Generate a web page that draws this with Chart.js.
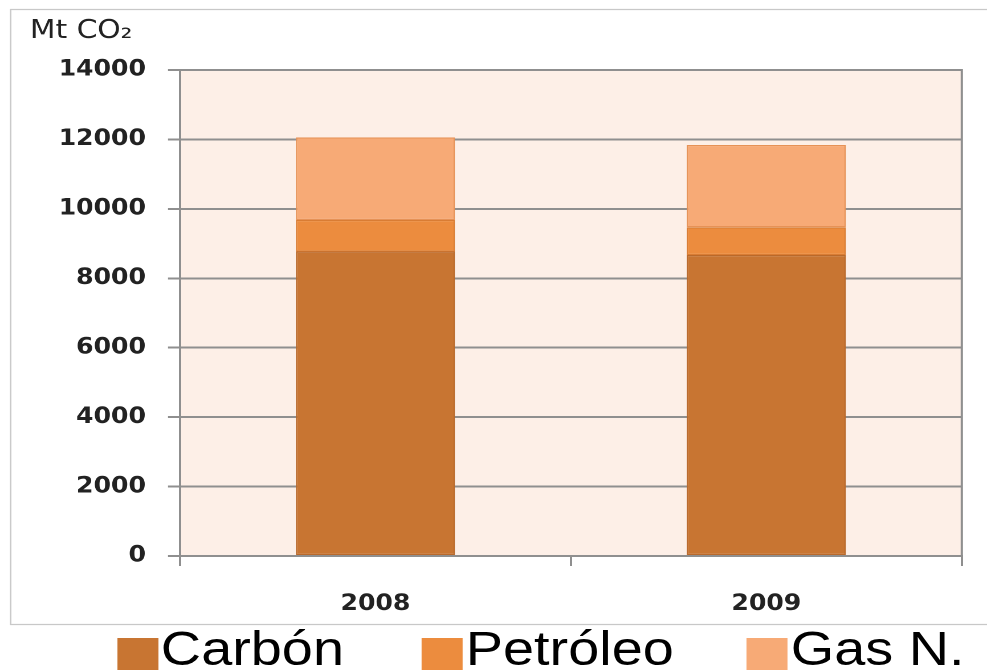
<!DOCTYPE html>
<html lang="es">
<head>
<meta charset="utf-8">
<title>Emisiones de CO2</title>
<script src="https://cdn.jsdelivr.net/npm/chart.js@4.4.1/dist/chart.umd.min.js"></script>
<style>
  html, body { margin: 0; padding: 0; background: #fff; overflow: hidden; }
  /* the whole figure is laid out at 866px and widened to the 987px page */
  #stage { position: relative; width: 866px; height: 670px; transform: scaleX(1.1397); transform-origin: 0 0; }
  #chart { position: absolute; left: 0; top: 0; }
  .legend-item { position: absolute; top: 0; }
  .legend-box { position: absolute; left: 0; top: 638px; width: 36px; height: 34px; }
  .legend-text { position: absolute; left: 38.5px; top: 623.5px; font: 49px/1 "Liberation Sans", Arial, sans-serif; color: #000; white-space: nowrap; }
</style>
</head>
<body>
<div id="stage">
  <canvas id="chart" width="866" height="670"></canvas>
  <div id="legend"></div>
</div>
<script>
// Emissions by fuel, Mt CO2
const years = ['2008', '2009'];
const carbon = [8770, 8670];
const oil = [910, 800];
const gas = [2380, 2370];

const seriesNames = ['Carbón', 'Petróleo', 'Gas N.'];
const seriesColors = ['#c87532', '#ec8c3e', '#f7aa76'];
const seriesBorders = ['#b9692b', '#d97c33', '#e69257'];

const yMin = 0;
const yMax = 14000;
const yStep = 2000;
const unitLabel = 'Mt CO₂';

const gridGray = '#8f8f8f';
const tickFont = { family: '"DejaVu Sans", Verdana, sans-serif', size: 22, weight: 'bold' };

// plot background, outer frame and right edge of the plot box
const plotFrame = {
  id: 'plotFrame',
  beforeDraw(chart) {
    const { ctx, chartArea: a, width } = chart;
    ctx.save();
    ctx.fillStyle = '#fdefe7';
    ctx.fillRect(a.left, a.top, a.right - a.left, a.bottom - a.top);
    ctx.strokeStyle = '#c8c8c8';
    ctx.lineWidth = 1.3;
    ctx.beginPath();
    ctx.moveTo(width, 9.5);
    ctx.lineTo(9.3, 9.5);
    ctx.lineTo(9.3, 624.5);
    ctx.lineTo(width, 624.5);
    ctx.stroke();
    ctx.restore();
  },
  beforeDatasetsDraw(chart) {
    const { ctx, chartArea: a } = chart;
    ctx.save();
    ctx.strokeStyle = gridGray;
    ctx.lineWidth = 2;
    ctx.beginPath();
    ctx.moveTo(a.right, a.top - 1);
    ctx.lineTo(a.right, a.bottom);
    ctx.stroke();
    ctx.restore();
  }
};

const seriesValues = [carbon, oil, gas];
const datasets = seriesNames.map((name, i) => ({
  label: name,
  data: seriesValues[i],
  backgroundColor: seriesColors[i],
  borderColor: seriesBorders[i],
  borderWidth: 1.2,
  borderSkipped: false,
  barPercentage: 0.407,
  categoryPercentage: 1.0
}));

const chart = new Chart(document.getElementById('chart'), {
  type: 'bar',
  data: { labels: years, datasets },
  options: {
    responsive: false,
    devicePixelRatio: 2,
    animation: false,
    layout: { padding: { left: 26.3, right: 22.1, top: 15.4, bottom: 52.6 } },
    plugins: {
      legend: { display: false },
      tooltip: { enabled: false },
      title: {
        display: true,
        text: unitLabel,
        align: 'start',
        color: '#222',
        font: { family: '"DejaVu Sans", Verdana, sans-serif', size: 26, weight: 'normal' },
        padding: { top: 0, bottom: 23.4 }
      }
    },
    scales: {
      x: {
        stacked: true,
        afterFit(scale) { scale.height = 61.4; },
        grid: { drawOnChartArea: false, drawTicks: true, tickLength: 10, color: gridGray, lineWidth: 2 },
        border: { display: true, color: gridGray, width: 2 },
        ticks: { font: tickFont, color: '#222', padding: 25 }
      },
      y: {
        stacked: true,
        min: yMin,
        max: yMax,
        afterFit(scale) { scale.width = 131.6; },
        grid: { color: gridGray, lineWidth: 2, tickLength: 10.5, tickColor: gridGray },
        border: { display: true, color: gridGray, width: 2 },
        ticks: { stepSize: yStep, font: tickFont, color: '#222', padding: 19.4, callback: v => String(v) }
      }
    }
  },
  plugins: [plotFrame]
});

// legend row under the frame, built from the chart's datasets
const legendX = [102.6, 370.2, 655.3];
const legendEl = document.getElementById('legend');
chart.data.datasets.forEach((ds, i) => {
  const item = document.createElement('div');
  item.className = 'legend-item';
  item.style.left = legendX[i] + 'px';
  const box = document.createElement('div');
  box.className = 'legend-box';
  box.style.background = ds.backgroundColor;
  const txt = document.createElement('div');
  txt.className = 'legend-text';
  txt.textContent = ds.label;
  item.appendChild(box);
  item.appendChild(txt);
  legendEl.appendChild(item);
});
</script>
</body>
</html>
